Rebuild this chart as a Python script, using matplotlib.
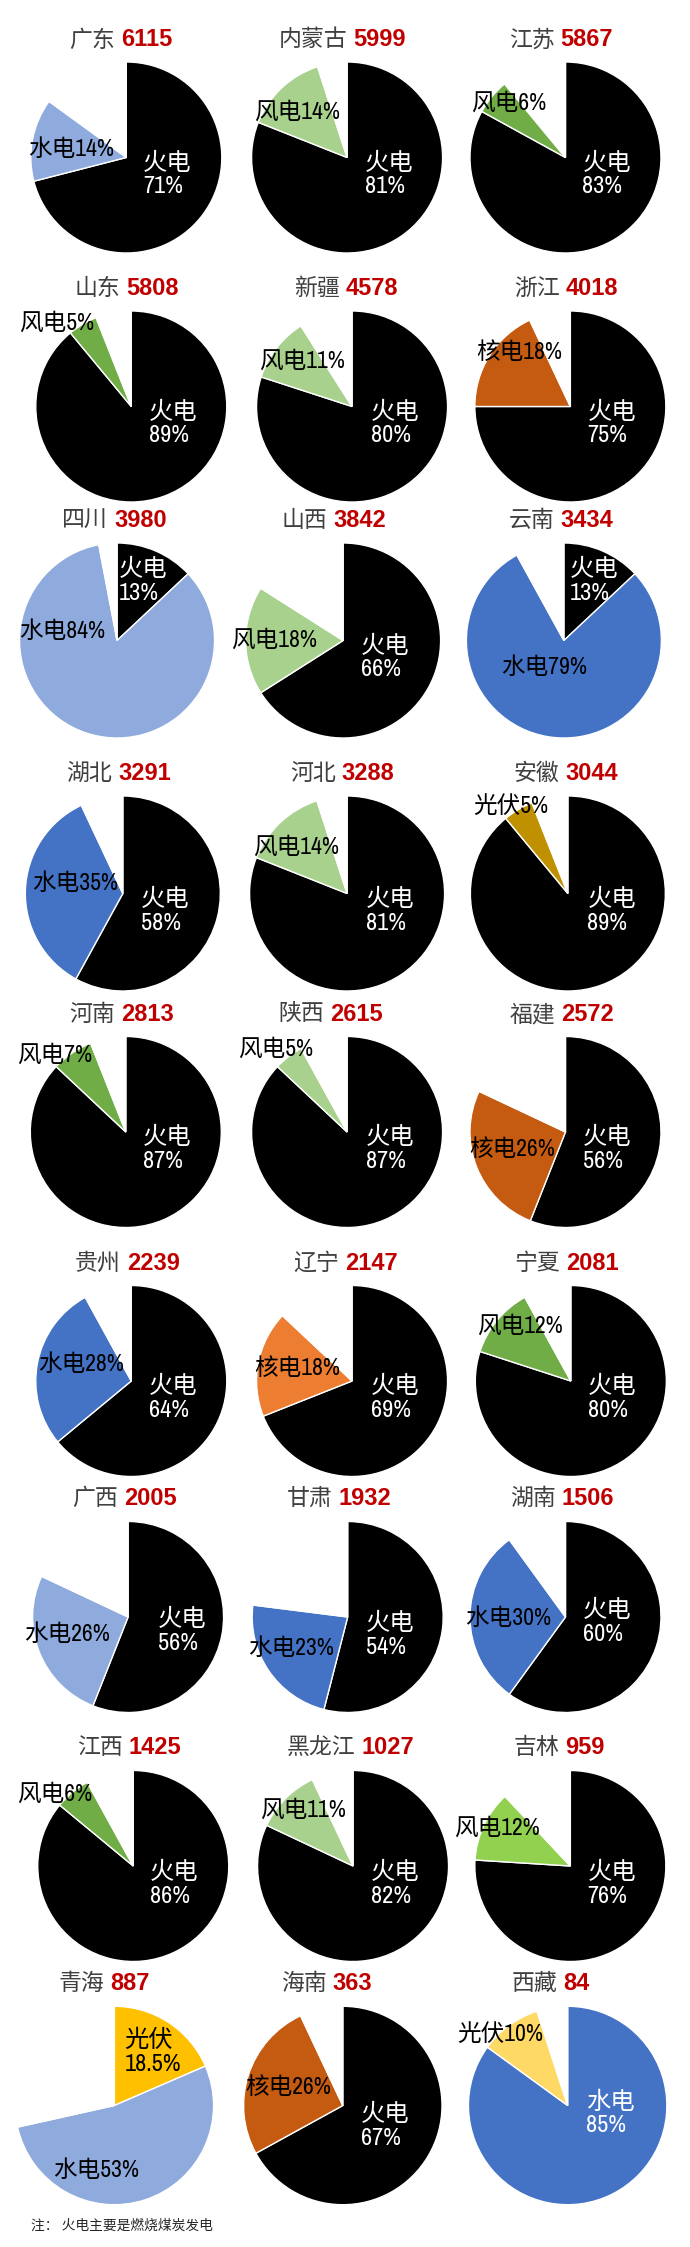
import matplotlib
matplotlib.use("Agg")
import matplotlib.pyplot as plt

W, H = 690, 2247
X_CAL = 0.9945

provinces = ["广东", "内蒙古", "江苏", "山东", "新疆", "浙江", "四川", "山西", "云南",
             "湖北", "河北", "安徽", "河南", "陕西", "福建", "贵州", "辽宁", "宁夏",
             "广西", "甘肃", "湖南", "江西", "黑龙江", "吉林", "青海", "海南", "西藏"]
totals = [6115, 5999, 5867, 5808, 4578, 4018, 3980, 3842, 3434,
          3291, 3288, 3044, 2813, 2615, 2572, 2239, 2147, 2081,
          2005, 1932, 1506, 1425, 1027, 959, 887, 363, 84]

# first slice clockwise from 12 o'clock
first_names = ["火电"] * 24 + ["光伏", "火电", "水电"]
first_shares = [71, 81, 83, 89, 80, 75, 13, 66, 13,
                58, 81, 89, 87, 87, 56, 64, 69, 80,
                56, 54, 60, 86, 82, 76, 18.5, 67, 85]

# second slice, the rest of the circle stays white
second_names = ["水电", "风电", "风电", "风电", "风电", "核电", "水电", "风电", "水电",
                "水电", "风电", "光伏", "风电", "风电", "核电", "水电", "核电", "风电",
                "水电", "水电", "水电", "风电", "风电", "风电", "水电", "核电", "光伏"]
second_shares = [14, 14, 6, 5, 11, 18, 84, 18, 79,
                 35, 14, 5, 7, 5, 26, 28, 18, 12,
                 26, 23, 30, 6, 11, 12, 53, 26, 10]

BLACK = "#000000"
HYDRO_L, HYDRO_D = "#8FAADC", "#4472C4"
WIND_L, WIND_M, WIND_B = "#A9D18E", "#70AD47", "#92D050"
NUC_D, NUC_O = "#C55A11", "#ED7D31"
SOLAR_D, SOLAR_M, SOLAR_L = "#BF9000", "#FFC000", "#FFD966"

first_colors = [BLACK] * 24 + [SOLAR_M, BLACK, HYDRO_D]
second_colors = [HYDRO_L, WIND_L, WIND_M, WIND_M, WIND_L, NUC_D, HYDRO_L, WIND_L, HYDRO_D,
                 HYDRO_D, WIND_L, SOLAR_D, WIND_M, WIND_L, NUC_D, HYDRO_D, NUC_O, WIND_M,
                 HYDRO_L, HYDRO_D, HYDRO_D, WIND_M, WIND_L, WIND_B, HYDRO_L, NUC_D, SOLAR_L]

# layout in image pixels
pie_cx = [127, 349, 568.6, 132, 354, 573.5, 117.7, 345, 567,
          123.5, 349, 571, 126.5, 349, 568.6, 132, 354, 574,
          128.8, 349.6, 568.6, 134, 355, 573.5, 115, 344.7, 570.8]
pie_cy = [157.5] * 3 + [406.5] * 3 + [640.5] * 3 + [893.5] * 3 + [1132] * 3 + [1381] * 3 \
    + [1617] * 3 + [1866] * 3 + [2105.5] * 3
pie_r = [95.5] * 6 + [97.5] * 6 + [95.5] * 12 + [99.2] * 3

title_y = [40] * 3 + [288.5] * 3 + [520.5] * 3 + [773.5] * 3 + [1014.5] * 3 + [1263] * 3 \
    + [1498.5] * 3 + [1747.5] * 3 + [1983] * 3
number_x = [121.7, 354.9, 563.7, 127.4, 347.3, 568.6, 114.6, 335, 563.3,
            118.6, 343.4, 568.1, 122.1, 331.9, 564.6, 127.4, 347.3, 569.5,
            124.8, 340.7, 564.6, 129.6, 363.7, 568.6, 110.6, 334.5, 566.8]

first_x = [144, 367, 585.7, 149.4, 373, 591, 119.4, 362.7, 572.5,
           141.5, 368, 590.6, 144, 367.6, 586, 149.4, 373, 591.5,
           159, 368, 586, 150.8, 373, 591, 125, 362.7, 589.7]
first_y = [174.5] * 3 + [423.3] * 3 + [580.7, 657.5, 580.7] + [910.8] * 3 + [1148.8] * 3 + [1397.7] * 3 \
    + [1630.9, 1634.7, 1622] + [1884] * 3 + [2052, 2126, 2113.5]
second_x = [27.8, 255.6, 473.8, 19.4, 260, 479, 19, 232.6, 504,
            32.6, 254.8, 475.5, 17.6, 239.7, 471.6, 38.8, 255.6, 479.5,
            24.7, 249.4, 468, 17.6, 261.8, 457, 53, 246.8, 460]
second_y = [149, 111.7, 102.7, 323, 360.7, 352, 631, 640, 666.7,
            883, 847, 806, 1055, 1049, 1148.7, 1364, 1368, 1326,
            1634, 1648.5, 1618, 1794, 1809.5, 1828, 2169.7, 2087, 2034]

LABEL_FONT = ["Archivo Narrow", "Noto Sans CJK SC", "DejaVu Sans"]
TITLE_FONT = ["Noto Sans CJK SC", "DejaVu Sans"]


def fx(px):
    return px * X_CAL / W


def fy(py):
    return 1 - py / H


fig = plt.figure(figsize=(W / 100, H / 100), dpi=100, facecolor="white")

for i, name in enumerate(provinces):
    cx, cy, r = pie_cx[i], pie_cy[i], pie_r[i]
    ax = fig.add_axes([fx(cx) - r / W, fy(cy + r), 2 * r / W, 2 * r / H])
    rest = 100 - first_shares[i] - second_shares[i]
    ax.pie([first_shares[i], second_shares[i], rest],
           colors=[first_colors[i], second_colors[i], "white"],
           startangle=90, counterclock=False, radius=1,
           wedgeprops={"edgecolor": "white", "linewidth": 1.0})
    ax.set_xlim(-1, 1)
    ax.set_ylim(-1, 1)
    ax.set_zorder(1)

    fig.text(fx(number_x[i] - 6), fy(title_y[i]), name, ha="right", va="center",
             family=TITLE_FONT, fontsize=16.5, color="#404040", zorder=5)
    fig.text(fx(number_x[i]), fy(title_y[i]), str(totals[i]), ha="left", va="center",
             family="Liberation Sans", fontsize=17, fontweight="bold", color="#C00000", zorder=5)

    first_col = "black" if first_colors[i] == SOLAR_M else "white"
    fig.text(fx(first_x[i]), fy(first_y[i]), f"{first_names[i]}\n{first_shares[i]}%",
             ha="left", va="center", linespacing=1.15, family=LABEL_FONT, fontsize=17.5,
             fontweight=500, color=first_col, zorder=5)
    fig.text(fx(second_x[i]), fy(second_y[i]), f"{second_names[i]}{second_shares[i]}%",
             ha="left", va="center", family=LABEL_FONT, fontsize=17, fontweight=500,
             color="black", zorder=5)

fig.text(fx(31), fy(2226), "注： 火电主要是燃烧煤炭发电", ha="left", va="center",
         family=TITLE_FONT, fontsize=9.9, color="#262626", zorder=5)

fig.savefig("out.png", dpi=100, facecolor="white")
